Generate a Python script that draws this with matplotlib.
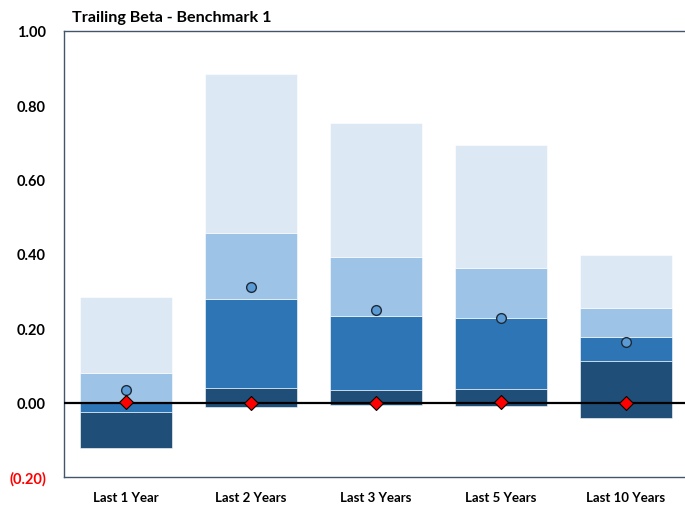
import matplotlib
matplotlib.use("Agg")
import matplotlib.pyplot as plt
import numpy as np

plt.rcParams['font.family'] = ['Lato', 'DejaVu Sans']

categories = ['Last 1 Year', 'Last 2 Years', 'Last 3 Years', 'Last 5 Years', 'Last 10 Years']
# percentile boundaries of the universe (5th, 25th, median, 75th, 95th)
p05 = [-0.121, -0.011, -0.005, -0.008, -0.040]
p25 = [-0.024, 0.040, 0.035, 0.038, 0.113]
p50 = [0.000, 0.278, 0.234, 0.228, 0.177]
p75 = [0.081, 0.457, 0.392, 0.363, 0.255]
p95 = [0.285, 0.884, 0.753, 0.694, 0.398]
portfolio = [0.035, 0.312, 0.250, 0.228, 0.164]
benchmark = [0.001, 0.000, 0.000, 0.002, -0.001]

yticks = [1.0, 0.8, 0.6, 0.4, 0.2, 0.0, -0.2]

colors = ['#1F4E79', '#2E75B6', '#9DC3E6', '#DDE8F5']
spine_col = '#44546A'

fig = plt.figure(figsize=(6.85, 5.06), dpi=100)
ax = fig.add_axes([0.0934, 0.0553, 0.9066, 0.8815])

x = np.arange(len(categories))
w = 0.736
bounds = [p05, p25, p50, p75, p95]
for i in range(4):
    lo = np.array(bounds[i])
    hi = np.array(bounds[i + 1])
    ax.bar(x, hi - lo, bottom=lo, width=w, color=colors[i],
           edgecolor='white', linewidth=0.4, zorder=2)

ax.axhline(0, color='black', linewidth=1.6, zorder=3)

ax.plot(x, portfolio, 'o', markersize=7, markerfacecolor='#5B9BD5',
        markeredgecolor='#1F2A38', markeredgewidth=1.0, zorder=4)
ax.plot(x, benchmark, 'D', markersize=7, markerfacecolor='#FF0000',
        markeredgecolor='#000000', markeredgewidth=0.8, zorder=5)

ax.set_xlim(-0.496, 4.472)
ax.set_ylim(-0.2, 1.0)
ax.set_yticks(yticks)
labels = []
for v in yticks:
    if v < 0:
        labels.append('({:.2f})'.format(-v))
    else:
        labels.append('{:.2f}'.format(v))
ax.set_yticklabels(labels, fontsize=10.5, fontweight='bold')
for lab, v in zip(ax.get_yticklabels(), yticks):
    if v < 0:
        lab.set_color('#FF0000')
ax.set_xticks(x)
ax.set_xticklabels(categories, fontsize=9.5, fontweight='bold')
ax.tick_params(axis='y', length=0, pad=13)
ax.tick_params(axis='x', length=0, pad=10)

for s in ['left', 'top', 'bottom']:
    ax.spines[s].set_color(spine_col)
    ax.spines[s].set_linewidth(1.0)
ax.spines['right'].set_visible(False)

fig.text(0.105, 0.965, 'Trailing Beta - Benchmark 1', fontsize=11.6,
         fontweight='bold', va='center', ha='left')

fig.savefig('out.png', dpi=100)
